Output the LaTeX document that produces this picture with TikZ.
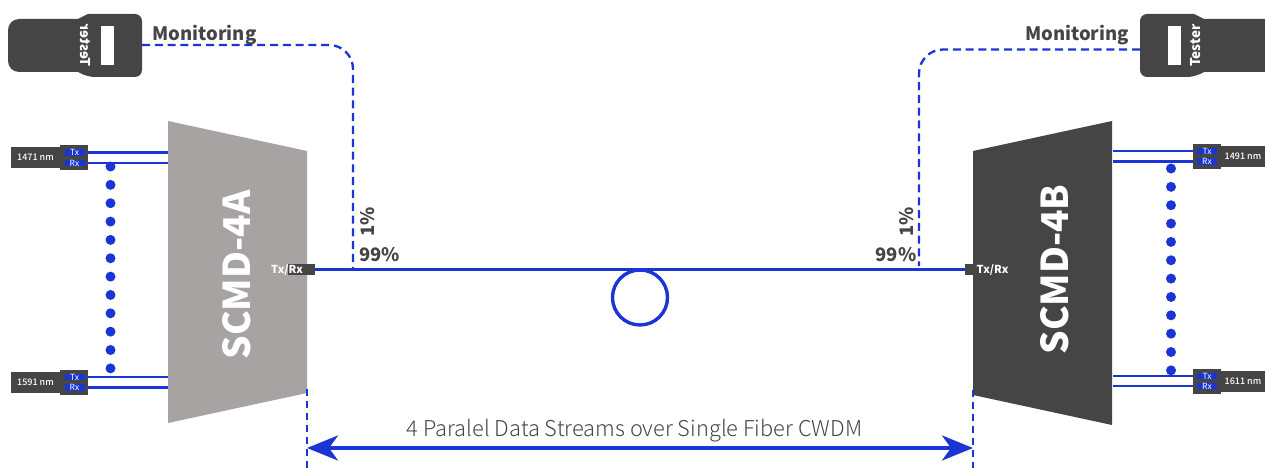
\documentclass[tikz,border=0pt]{standalone}
\usepackage{fontspec}
\setmainfont{Noto Sans CJK SC}
\newfontfamily\lightf{Noto Sans CJK SC Light}
\newfontfamily\medf{Noto Sans CJK SC Medium}
\usetikzlibrary{arrows.meta}
\definecolor{fib}{HTML}{1A35D6}
\definecolor{dk}{HTML}{454545}
\definecolor{lg}{HTML}{A7A3A2}
\newcommand{\fsz}[1]{\fontsize{#1}{#1}\selectfont}
\tikzset{
  x=1pt,y=-1pt,
  fiber/.style={draw=fib,line width=3.6pt},
  thinfiber/.style={draw=fib,line width=2.3pt},
  dashfiber/.style={draw=fib,line width=2.3pt,dash pattern=on 8pt off 4.8pt},
  dimline/.style={draw=fib,line width=2.3pt,dash pattern=on 7pt off 5pt},
  dotnode/.style={circle,fill=fib,inner sep=0pt,minimum size=10pt},
  conbox/.style={fill=dk,inner sep=0pt,minimum width=28pt,minimum height=25pt},
  lambox/.style={fill=dk,inner sep=0pt,text=white,font=\medf\fsz{9},minimum height=21pt},
  portbox/.style={fill=fib,inner sep=0pt,text=white,font=\fsz{8.5},minimum width=20pt,minimum height=6pt},
  mon/.style={inner sep=0pt,text=dk,font=\fsz{18.5}\bfseries},
  pct/.style={inner sep=0pt,text=dk,font=\fsz{18.5}\bfseries},
  scmd/.style={inner sep=0pt,text=white,font=\fsz{37}\bfseries,rotate=90},
  txrx/.style={inner sep=0pt,text=white,font=\fsz{11}\bfseries},
}
\begin{document}
\begin{tikzpicture}
\useasboundingbox (0,0) rectangle (1265,468);
% trapezoids
\coordinate (A1) at (168,121); \coordinate (A2) at (307,151); \coordinate (A3) at (307,393); \coordinate (A4) at (168,423);
\coordinate (B1) at (973,151); \coordinate (B2) at (1112,121); \coordinate (B3) at (1112,425); \coordinate (B4) at (973,395);
\fill[lg] (A1)--(A2)--(A3)--(A4)--cycle;
\fill[dk] (B1)--(B2)--(B3)--(B4)--cycle;
\node[scmd] (scmdA) at (237,275) {SCMD-4A};
\node[scmd] (scmdB) at (1055,269.5) {SCMD-4B};
% testers
\fill[dk,rounded corners=7pt] (142,14) -- (142,77) -- (88,77) [sharp corners] -- (78,72) [rounded corners=11pt] -- (8,72) -- (8,19) [sharp corners] -- (78,19) -- (88,14) [rounded corners=7pt] -- cycle;
\fill[dk,rounded corners=7pt] (1140,14) -- (1140,77) -- (1194,77) [sharp corners] -- (1204,72) -- (1265,72) -- (1265,19) -- (1204,19) -- (1194,14) [rounded corners=7pt] -- cycle;
\fill[white] (101,26) rectangle (114,65);
\fill[white] (1168,26) rectangle (1181,65);
\node[inner sep=0pt,text=white,font=\fsz{13.5}\bfseries,rotate=90] (testTxtR) at (1195.5,45.5) {Tester};
\begin{scope}[shift={(85,45.5)},xscale=-1]
\node[inner sep=0pt,text=white,font=\fsz{13.5}\bfseries,rotate=90,transform shape] (testTxtL) at (0,0) {Tester};
\end{scope}
\coordinate (testL) at (142,45);
\coordinate (testR) at (1140,49.5);
\node[mon] (monL) at (204.5,35) {Monitoring};
\node[mon] (monR) at (1077,35) {Monitoring};
% Tx/Rx blocks and main fibre
\node[fill=dk,inner sep=0pt,minimum width=27pt,minimum height=11pt] (trxA) at (301.5,269.5) {};
\node[fill=dk,inner sep=0pt,minimum width=12pt,minimum height=11pt] (trxB) at (971,269.5) {};
\node[txrx] (trxAt) at (287,270.5) {Tx/Rx};
\node[txrx] (trxBt) at (992.5,270.5) {Tx/Rx};
\draw[fiber] (trxA.east) -- (trxB.west);
\node[circle,draw=fib,line width=3.4pt,inner sep=0pt,minimum size=55pt] (loop) at (640,297.5) {};
% taps
\coordinate (tapA) at (353,268);
\coordinate (tapB) at (919,266);
\draw[dashfiber,rounded corners=24pt] (testL) -| (tapA);
\draw[dashfiber,rounded corners=24pt] (testR) -| (tapB);
\node[pct,rotate=90] (p1A) at (368,222) {1\%};
\node[pct] (p99A) at (379.5,255) {99\%};
\node[pct,rotate=90] (p1B) at (907,222) {1\%};
\node[pct] (p99B) at (896,255) {99\%};
% left top port
\node[lambox,minimum width=49pt] (lamA1) at (35.5,157.5) {1471 nm};
\node[conbox] (conA1) at (74,157.5) {};
\node[portbox] (txA1) at (74.5,152.5) {Tx};
\node[portbox] (rxA1) at (74.5,163) {Rx};
\coordinate (eA1t) at (168,152.5); \coordinate (eA1r) at (168,163);
\draw[thinfiber] (conA1.east |- txA1) -- (eA1t);
\draw[thinfiber] (conA1.east |- rxA1) -- (eA1r);
% left bottom port
\node[lambox,minimum width=49pt] (lamA2) at (35.5,382.5) {1591 nm};
\node[conbox] (conA2) at (74,382.5) {};
\node[portbox] (txA2) at (74.5,377) {Tx};
\node[portbox] (rxA2) at (74.5,387.5) {Rx};
\coordinate (eA2t) at (168,377); \coordinate (eA2r) at (168,387.5);
\draw[thinfiber] (conA2.east |- txA2) -- (eA2t);
\draw[thinfiber] (conA2.east |- rxA2) -- (eA2r);
% right top port
\node[lambox,minimum width=44pt] (lamB1) at (1243,156) {1491 nm};
\node[conbox] (conB1) at (1207,156.5) {};
\node[portbox] (txB1) at (1207,151) {Tx};
\node[portbox] (rxB1) at (1207,161.5) {Rx};
\coordinate (eB1t) at (1113,151); \coordinate (eB1r) at (1113,161.5);
\draw[thinfiber] (eB1t) -- (conB1.west |- txB1);
\draw[thinfiber] (eB1r) -- (conB1.west |- rxB1);
% right bottom port
\node[lambox,minimum width=44pt] (lamB2) at (1243,381) {1611 nm};
\node[conbox] (conB2) at (1207,381) {};
\node[portbox] (txB2) at (1207,376) {Tx};
\node[portbox] (rxB2) at (1207,386) {Rx};
\coordinate (eB2t) at (1113,376); \coordinate (eB2r) at (1113,386);
% dots
\foreach \i [evaluate=\i as \yy using 166.5+\i*18.35] in {0,...,11} {
  \node[dotnode] (dotA\i) at (110.5,\yy) {};
}
\foreach \i [evaluate=\i as \yy using 168.5+\i*18.35] in {0,...,11} {
  \node[dotnode] (dotB\i) at (1171,\yy) {};
}
\draw[thinfiber] (eB2t) -- (conB2.west |- txB2);
\draw[thinfiber] (eB2r) -- (conB2.west |- rxB2);
% dimension
\coordinate (dimA) at (307,448); \coordinate (dimB) at (973,448);
\coordinate (dA0) at (307,389); \coordinate (dA1) at (307,468);
\coordinate (dB0) at (973,390); \coordinate (dB1) at (973,468);
\draw[dimline] (dA0) -- (dA1);
\draw[dimline] (dB0) -- (dB1);
\draw[fiber,{Stealth[length=31pt,width=25pt,inset=9pt]}-{Stealth[length=31pt,width=25pt,inset=9pt]}] (dimA) -- (dimB);
\node[inner sep=0pt,text=dk,font=\lightf\fsz{21.8}] (dimT) at (634.5,430.5) {4 Paralel Data Streams over Single Fiber CWDM};
\end{tikzpicture}
\end{document}
